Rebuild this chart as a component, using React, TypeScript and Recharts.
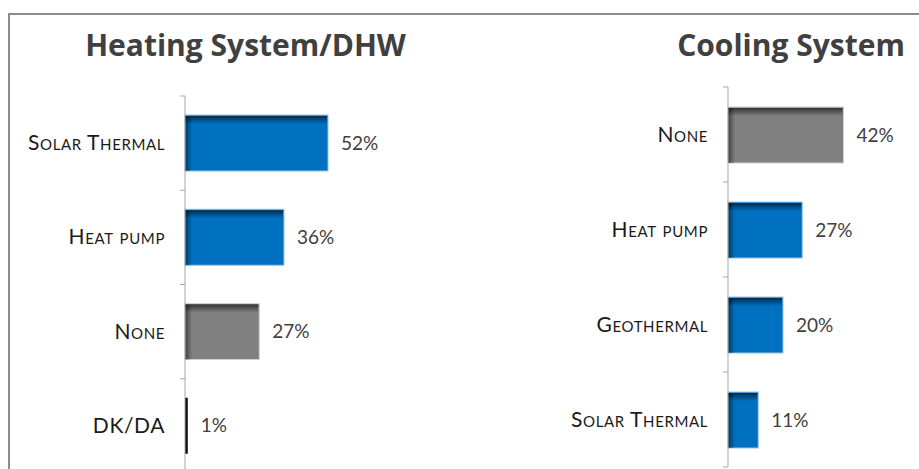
import React from 'react';
import { BarChart, Bar, XAxis, YAxis, LabelList, Cell } from 'recharts';

const heatingCategories = ['Solar Thermal', 'Heat pump', 'None', 'DK/DA'];
const heatingValues = [52, 36, 27, 1];

const coolingCategories = ['None', 'Heat pump', 'Geothermal', 'Solar Thermal'];
const coolingValues = [42, 27, 20, 11];

const BLUE = '#0070c0';
const GRAY = '#808080';
const AXIS = '#a6a6a6';

const toRows = (cats: string[], vals: number[]) =>
  cats.map((name, i) => ({ name, value: vals[i] }));

const ShadedBar = (props: any) => {
  const { x, y, width, height, fill } = props;
  if (!width || width <= 0) return null;
  const edge = fill === BLUE ? '#9dc3e6' : '#d0d0d0';
  if (width < 6) {
    return <rect x={x} y={y} width={width} height={height} fill="#0a0a0a" />;
  }
  return (
    <g>
      <rect x={x} y={y} width={width} height={height} fill={fill} stroke={edge} strokeWidth={1} />
      <rect x={x} y={y + 1} width={width - 1} height={8} fill="url(#shadeTop)" />
      <rect x={x} y={y + 1} width={7} height={height - 1} fill="url(#shadeLeft)" />
    </g>
  );
};

const CategoryTick = (props: any) => {
  const { x, y, payload, index, visibleTicksCount } = props;
  const half = payload?.offset ?? 47;
  const last = index === (visibleTicksCount ?? 4) - 1;
  return (
    <g>
      <line x1={x} x2={x - 5} y1={y - half} y2={y - half} stroke={AXIS} />
      {last && <line x1={x} x2={x - 5} y1={y + half} y2={y + half} stroke={AXIS} />}
      <text
        x={x - 20}
        y={y}
        dy={7}
        textAnchor="end"
        fill="#1a1a1a"
        style={{ fontFamily: 'Lato, sans-serif', fontSize: 21, fontVariant: 'small-caps', letterSpacing: 0.6 }}
      >
        {payload.value}
      </text>
    </g>
  );
};

const Defs = () => (
  <defs>
    <linearGradient id="shadeTop" x1="0" y1="0" x2="0" y2="1">
      <stop offset="0%" stopColor="#000" stopOpacity={0.6} />
      <stop offset="100%" stopColor="#000" stopOpacity={0} />
    </linearGradient>
    <linearGradient id="shadeLeft" x1="0" y1="0" x2="1" y2="0">
      <stop offset="0%" stopColor="#000" stopOpacity={0.5} />
      <stop offset="100%" stopColor="#000" stopOpacity={0} />
    </linearGradient>
  </defs>
);

function Panel({
  cats,
  vals,
  width,
  height,
  margin,
  axisWidth,
  max,
}: {
  cats: string[];
  vals: number[];
  width: number;
  height: number;
  margin: { top: number; right: number; bottom: number; left: number };
  axisWidth: number;
  max: number;
}) {
  const data = toRows(cats, vals);
  return (
    <BarChart width={width} height={height} data={data} layout="vertical" margin={margin}>
      <Defs />
      <XAxis type="number" domain={[0, max]} hide />
      <YAxis
        type="category"
        dataKey="name"
        width={axisWidth}
        axisLine={{ stroke: AXIS, strokeWidth: 1 }}
        tickLine={false}
        tickSize={0}
        tickMargin={0}
        tick={<CategoryTick />}
        interval={0}
      />
      <Bar dataKey="value" barSize={56} shape={<ShadedBar />} isAnimationActive={false}>
        {data.map((d, i) => (
          <Cell key={i} fill={d.name === 'None' ? GRAY : BLUE} />
        ))}
        <LabelList
          dataKey="value"
          position="right"
          offset={13}
          formatter={(v: any) => `${v}%`}
          style={{ fontFamily: 'Lato, sans-serif', fontSize: 19, fill: '#404040' }}
        />
      </Bar>
    </BarChart>
  );
}

const titleStyle: React.CSSProperties = {
  position: 'absolute',
  textAlign: 'center',
  fontFamily: '"Open Sans", sans-serif',
  fontWeight: 700,
  fontSize: 30,
  color: '#404040',
  lineHeight: '40px',
  whiteSpace: 'nowrap',
};

export default function App() {
  return (
    <div
      style={{
        position: 'absolute',
        left: 0,
        top: 0,
        width: 919,
        height: 469,
        overflow: 'hidden',
        background: '#fff',
      }}
    >
      <div
        style={{
          position: 'absolute',
          left: 8,
          top: 13,
          width: 930,
          height: 480,
          borderTop: '2px solid #8c8c8c',
          borderLeft: '2px solid #8c8c8c',
        }}
      />
      <div style={{ ...titleStyle, left: 0, top: 25, width: 491 }}>Heating System/DHW</div>
      <div style={{ ...titleStyle, left: 591, top: 25, width: 400 }}>Cooling System</div>

      <div style={{ position: 'absolute', left: 0, top: 0 }}>
        <Panel
          cats={heatingCategories}
          vals={heatingValues}
          width={460}
          height={480}
          margin={{ top: 96, right: 0, bottom: 7, left: 0 }}
          axisWidth={185}
          max={100}
        />
      </div>
      <div style={{ position: 'absolute', left: 460, top: 0 }}>
        <Panel
          cats={coolingCategories}
          vals={coolingValues}
          width={459}
          height={480}
          margin={{ top: 87, right: 26, bottom: 13, left: 0 }}
          axisWidth={268}
          max={60}
        />
      </div>
    </div>
  );
}
